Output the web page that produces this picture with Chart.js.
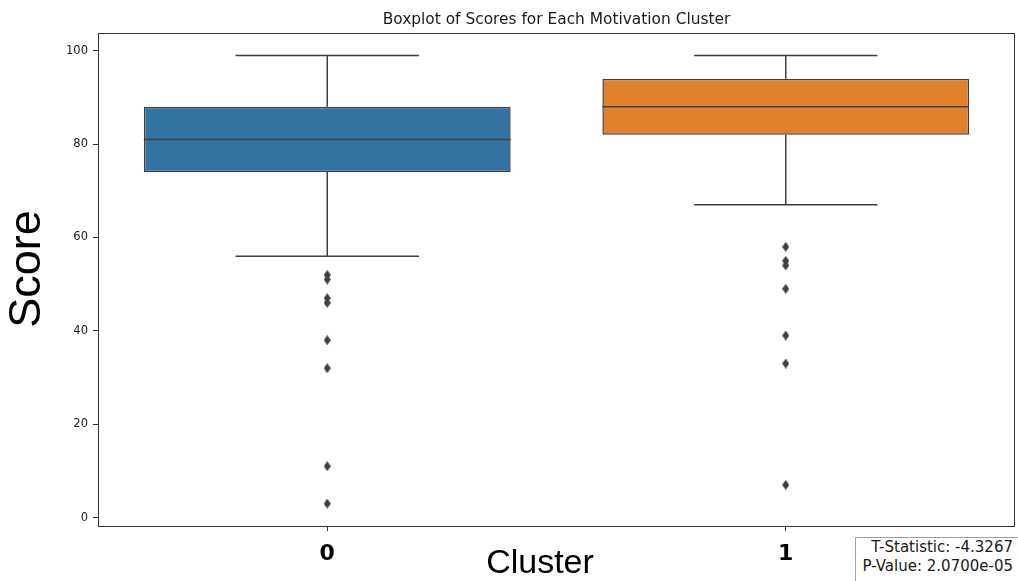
<!DOCTYPE html>
<html>
<head>
<meta charset="utf-8">
<script src="https://cdn.jsdelivr.net/npm/chart.js@4.4.0/dist/chart.umd.min.js"></script>
<style>
html,body{margin:0;padding:0;background:#fff;overflow:hidden}
#wrap{position:relative;width:1018px;height:581px}
#stats{position:absolute;left:855px;top:537px;width:175px;height:60px;box-sizing:border-box;border:1px solid #a0a0a0;background:#fff;
  font-family:"DejaVu Sans";font-size:15px;line-height:19px;color:#1a1a1a;text-align:right;padding-right:16px;padding-top:0;white-space:nowrap}
</style>
</head>
<body>
<div id="wrap">
<canvas id="c" width="1018" height="581"></canvas>
<div id="stats">T-Statistic: -4.3267<br>P-Value: 2.0700e-05</div>
</div>
<script>
const categories = ['0', '1'];
const q1 = [74, 82];
const medians = [81, 88];
const q3 = [88, 94];
const whiskerLow = [56, 67];
const whiskerHigh = [99, 99];
const outliers0 = [52, 51, 47, 46, 38, 32, 11, 3];
const outliers1 = [58, 55, 54, 49, 39, 33, 7];
const yTicks = [0, 20, 40, 60, 80, 100];
const boxColors = ['#3274a1', '#e1812c'];
const titleText = 'Boxplot of Scores for Each Motivation Cluster';
const xTitle = 'Cluster';
const yTitle = 'Score';

const lineColor = '#3f3f3f';
const outlierSets = [outliers0, outliers1];

// thin diamond marker
const marker = document.createElement('canvas');
marker.width = 7; marker.height = 10;
(function(){
  const m = marker.getContext('2d');
  m.fillStyle = lineColor;
  m.beginPath();
  m.moveTo(3.5, 0); m.lineTo(7, 5); m.lineTo(3.5, 10); m.lineTo(0, 5); m.closePath();
  m.fill();
})();

const boxPlugin = {
  id: 'boxParts',
  afterDatasetsDraw(chart) {
    const ctx = chart.ctx;
    const xs = chart.scales.x, ys = chart.scales.y;
    const meta = chart.getDatasetMeta(0);
    ctx.save();
    ctx.strokeStyle = lineColor;
    ctx.lineWidth = 1.5;
    categories.forEach((c, i) => {
      const cx = xs.getPixelForValue(i);
      const w = meta.data[i].width;
      const yHi = ys.getPixelForValue(whiskerHigh[i]);
      const yLo = ys.getPixelForValue(whiskerLow[i]);
      const yQ1 = ys.getPixelForValue(q1[i]);
      const yQ3 = ys.getPixelForValue(q3[i]);
      const yMed = ys.getPixelForValue(medians[i]);
      ctx.beginPath();
      ctx.moveTo(cx, yQ3); ctx.lineTo(cx, yHi);
      ctx.moveTo(cx - w / 4, yHi); ctx.lineTo(cx + w / 4, yHi);
      ctx.moveTo(cx, yQ1); ctx.lineTo(cx, yLo);
      ctx.moveTo(cx - w / 4, yLo); ctx.lineTo(cx + w / 4, yLo);
      ctx.moveTo(cx - w / 2, yMed); ctx.lineTo(cx + w / 2, yMed);
      ctx.stroke();
    });
    ctx.restore();
  },
  afterDraw(chart) {
    const ctx = chart.ctx;
    const a = chart.chartArea;
    ctx.save();
    ctx.strokeStyle = '#333';
    ctx.lineWidth = 1;
    ctx.strokeRect(a.left + 0.5, a.top + 0.5, a.right - a.left - 1, a.bottom - a.top);
    ctx.fillStyle = '#1a1a1a';
    // title
    ctx.font = '15.4px "DejaVu Sans"';
    ctx.textAlign = 'center';
    ctx.textBaseline = 'alphabetic';
    ctx.fillText(titleText, (a.left + a.right) / 2, 24);
    // x title
    ctx.fillStyle = '#000';
    ctx.font = '34px "Liberation Sans"';
    ctx.fillText(xTitle, 540, 573);
    // y title
    ctx.translate(40, 269);
    ctx.rotate(-Math.PI / 2);
    ctx.font = '45px "Liberation Sans"';
    ctx.fillText(yTitle, 0, 0);
    ctx.restore();
  }
};

const outlierData = [];
outlierSets.forEach((arr, i) => arr.forEach(v => outlierData.push({ x: categories[i], y: v })));

new Chart(document.getElementById('c'), {
  type: 'bar',
  data: {
    labels: categories,
    datasets: [
      {
        data: q1.map((v, i) => [v, q3[i]]),
        backgroundColor: boxColors,
        borderColor: lineColor,
        borderWidth: 1.5,
        borderSkipped: false,
        barPercentage: 0.8,
        categoryPercentage: 1.0,
        order: 2
      },
      {
        type: 'scatter',
        data: outlierData,
        pointStyle: marker,
        pointRadius: 5,
        order: 1
      }
    ]
  },
  options: {
    responsive: false,
    animation: false,
    events: [],
    layout: { autoPadding: false, padding: { top: 33, right: 3, left: 0, bottom: 0 } },
    plugins: { legend: { display: false }, tooltip: { enabled: false }, title: { display: false } },
    scales: {
      x: {
        type: 'category',
        offset: true,
        grid: { display: true, drawOnChartArea: false, offset: false, tickLength: 5, color: '#333', tickWidth: 1 },
        border: { display: false },
        ticks: { color: '#000', font: { family: 'DejaVu Sans', size: 22, weight: 'bold' }, padding: 10 },
        afterFit(s) { s.height = 55; s.paddingLeft = 0; s.paddingRight = 0; }
      },
      y: {
        min: -1.8,
        max: 103.8,
        grid: { display: true, drawOnChartArea: false, tickLength: 5, color: '#333' },
        border: { display: false },
        afterBuildTicks(s) { s.ticks = yTicks.map(v => ({ value: v })); },
        ticks: { color: '#222', font: { family: 'DejaVu Sans', size: 11.5 }, padding: 5 },
        afterFit(s) { s.width = 98; s.paddingTop = 0; s.paddingBottom = 0; }
      }
    }
  },
  plugins: [boxPlugin]
});
</script>
</body>
</html>
